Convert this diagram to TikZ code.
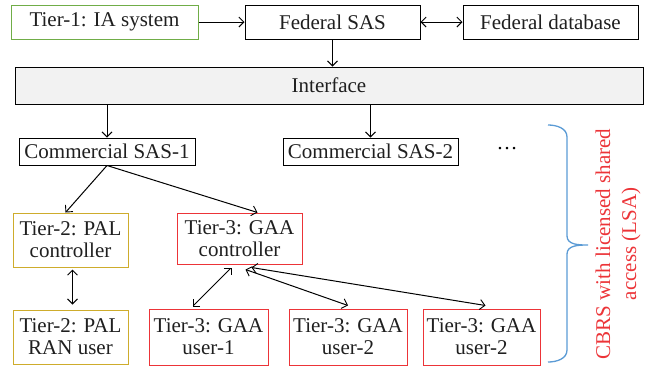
\documentclass[tikz,border=0pt]{standalone}
\usepackage{fontspec}
\setmainfont{Liberation Serif}
\usetikzlibrary{shapes,positioning,fit,calc,arrows.meta}

\definecolor{iagreen}{RGB}{112,173,71}
\definecolor{palgold}{RGB}{206,172,44}
\definecolor{gaared}{RGB}{236,52,56}
\definecolor{lsablue}{RGB}{91,155,213}
\definecolor{ifgray}{RGB}{242,242,242}

\begin{document}
\begin{tikzpicture}[x=1pt, y=-1pt,
    >={Straight Barb[length=5pt, width=10pt, line width=0.9pt]}]

        \def\h{34pt}
        \def\hh{54pt}

        % Styles of the boxes and of the links between them
        \tikzset{
            box/.style={draw, line width=1pt, inner sep=0pt, align=center,
                minimum height=\h, text=black!88,
                font=\fontsize{21}{22}\selectfont},
            iabox/.style={box, draw=iagreen},
            palbox/.style={box, draw=palgold, minimum width=115pt,
                minimum height=\hh},
            gaabox/.style={box, draw=gaared, minimum height=\hh},
            link/.style={->, line width=1pt},
            twolink/.style={<->, line width=1pt}
        }

        \useasboundingbox (0,0) rectangle (649,368);

        % Federal part on top
        \begin{scope}
            \node[iabox, minimum width=187pt] (IA) at (104.5,22)
            {Tier-1: IA system};
            \node[box, minimum width=175pt] (FSAS) at (332.5,22)
            {Federal SAS};
            \node[box, minimum width=175pt] (FDB) at (550.5,22)
            {Federal database};
            \node[box, fill=ifgray, minimum width=628pt, minimum height=37pt]
            (IF) at (329,85.5) {Interface};
        \end{scope}

        % Commercial part
        \begin{scope}
            \node[box, minimum width=176pt, minimum height=27pt] (CS1)
            at (107,151.5) {Commercial SAS-1};
            \node[box, minimum width=175pt, minimum height=27pt] (CS2)
            at (370.5,151.5) {Commercial SAS-2};
            \node[font=\fontsize{21}{22}\selectfont] (dots) at (507,149)
            {\dots};
            \node[palbox] (PALc) at (70.5,240) {Tier-2: PAL\\controller};
            \node[palbox] (PALu) at (70.5,337) {Tier-2: PAL\\RAN user};
            \node[gaabox, minimum width=125pt, minimum height=51pt] (GAAc)
            at (239.5,238.5) {Tier-3: GAA\\controller};
            \node[gaabox, minimum width=119pt, minimum height=56pt] (U1)
            at (208.5,337) {Tier-3: GAA\\user-1};
            \node[gaabox, minimum width=118pt, minimum height=56pt] (U2)
            at (348,337) {Tier-3: GAA\\user-2};
            \node[gaabox, minimum width=117pt, minimum height=56pt] (U3)
            at (481.5,337) {Tier-3: GAA\\user-2};
        \end{scope}

        \begin{scope}
            \draw[link] (IA) -- (FSAS);
            \draw[twolink] (FSAS) -- (FDB);
            \draw[link] (FSAS.south) -- (FSAS.south |- IF.north);
            \draw[link] (CS1.north |- IF.south) -- (CS1.north);
            \draw[link] (CS2.north |- IF.south) -- (CS2.north);
            \draw[link] (CS1.south) -- ($(PALc.north)+(-5,0)$);
            \draw[link] (CS1.south) -- ($(GAAc.north)+(18,0)$);
            \draw[twolink] ($(PALc.south)+(2,2)$) -- ($(PALu.north)+(2,-5)$);
            \draw[twolink] ($(GAAc.south)+(-8,3)$) -- ($(U1.north)+(-16,-2)$);
            \draw[twolink] ($(GAAc.south)+(6,5)$) -- ($(U2.north)+(0,-3)$);
            \draw[twolink] ($(GAAc.south)+(12,3)$) -- ($(U3.north)+(4,-3)$);
        \end{scope}

        % Brace round the commercial part
        \draw[lsablue, line width=1.3pt] (548,125) to[out=0, in=90] (567,137)
            -- (567,236) to[out=-90, in=180] (588,245)
            to[out=180, in=90] (567,254) -- (567,350)
            to[out=-90, in=0] (548,362);
        \node[rotate=90, text=gaared, align=center,
            font=\fontsize{21}{26}\selectfont] (LSA) at (618,244)
        {CBRS with licensed shared\\access (LSA)};

\end{tikzpicture}
\end{document}
